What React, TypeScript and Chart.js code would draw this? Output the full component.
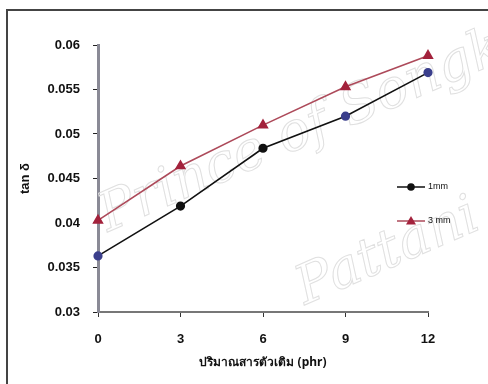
import React, { useEffect, useRef } from "react";
import { Chart, registerables } from "chart.js";

Chart.register(...registerables);

const xValues = [0, 3, 6, 9, 12];
const series1mm = [0.0363, 0.0419, 0.0484, 0.052, 0.0569];
const series3mm = [0.0403, 0.0464, 0.051, 0.0553, 0.0588];
const yTicks = [0.03, 0.035, 0.04, 0.045, 0.05, 0.055, 0.06];
const xTicks = [0, 3, 6, 9, 12];
const seriesLabels = ["1mm", "3 mm"];
const xTitle = "ปริมาณสารตัวเติม (phr)";
const yTitle = "tan δ";
const watermark = ["Prince of Songkla", "Pattani"];

const framePlugin = {
  id: "frame",
  beforeDraw(chart: any) {
    const { ctx, width, height } = chart;
    ctx.save();
    ctx.fillStyle = "#ffffff";
    ctx.fillRect(0, 0, width, height);
    ctx.strokeStyle = "#444";
    ctx.lineWidth = 2;
    ctx.beginPath();
    ctx.moveTo(7, height);
    ctx.lineTo(7, 10);
    ctx.lineTo(width, 10);
    ctx.stroke();
    ctx.restore();
  },
  beforeDatasetsDraw(chart: any) {
    const { ctx } = chart;
    const marks: [string, number, number][] = [
      [watermark[0], 108, 232],
      [watermark[1], 305, 305],
    ];
    marks.forEach(([text, x, y]) => {
      ctx.save();
      ctx.strokeStyle = "#e0e0e0";
      ctx.lineWidth = 1;
      ctx.font = "italic 54px 'DejaVu Serif'";
      ctx.translate(x, y);
      ctx.rotate(-0.41);
      ctx.strokeText(text, 0, 0);
      ctx.restore();
    });
  },
};

const legendPlugin = {
  id: "innerLegend",
  afterDraw(chart: any) {
    const { ctx, chartArea } = chart;
    const x0 = chartArea.right - 31;
    const ys = [chartArea.top + 142, chartArea.top + 176];
    chart.data.datasets.forEach((ds: any, i: number) => {
      const y = ys[i];
      ctx.save();
      ctx.strokeStyle = ds.borderColor;
      ctx.lineWidth = 1.5;
      ctx.beginPath();
      ctx.moveTo(x0, y);
      ctx.lineTo(x0 + 28, y);
      ctx.stroke();
      const cx = x0 + 14;
      ctx.fillStyle = ds.legendMarkerColor;
      ctx.beginPath();
      if (ds.pointStyle === "triangle") {
        ctx.moveTo(cx, y - 5);
        ctx.lineTo(cx + 5, y + 3.5);
        ctx.lineTo(cx - 5, y + 3.5);
        ctx.closePath();
      } else {
        ctx.arc(cx, y, 3.8, 0, Math.PI * 2);
      }
      ctx.fill();
      ctx.fillStyle = "#111";
      ctx.font = "9px 'Liberation Sans'";
      ctx.textBaseline = "middle";
      ctx.textAlign = "left";
      ctx.fillText(ds.label, x0 + 31, y);
      ctx.restore();
    });
  },
};

export default function App() {
  const ref = useRef<HTMLCanvasElement | null>(null);

  useEffect(() => {
    if (!ref.current) return;
    const chart = new Chart(ref.current, {
      type: "line",
      data: {
        datasets: [
          {
            label: seriesLabels[0],
            data: xValues.map((x, i) => ({ x, y: series1mm[i] })),
            borderColor: "#111111",
            borderWidth: 1.6,
            clip: false,
            pointStyle: "circle",
            pointRadius: 3.8,
            pointBackgroundColor: ["#3b3f8c", "#111111", "#111111", "#3b3f8c", "#3b3f8c"],
            pointBorderColor: ["#3b3f8c", "#111111", "#111111", "#3b3f8c", "#3b3f8c"],
            legendMarkerColor: "#111111",
          } as any,
          {
            label: seriesLabels[1],
            data: xValues.map((x, i) => ({ x, y: series3mm[i] })),
            borderColor: "#ad4a5a",
            borderWidth: 1.6,
            clip: false,
            pointStyle: "triangle",
            pointRadius: 5,
            pointBackgroundColor: "#a3223c",
            pointBorderColor: "#a3223c",
            legendMarkerColor: "#a3223c",
          } as any,
        ],
      },
      options: {
        animation: false,
        responsive: false,
        maintainAspectRatio: false,
        layout: { padding: { top: 45, right: 60, left: 0, bottom: 0 } },
        plugins: {
          legend: { display: false },
          tooltip: { enabled: false },
        },
        scales: {
          x: {
            type: "linear",
            min: 0,
            max: 12,
            afterBuildTicks(scale: any) {
              scale.ticks = xTicks.map((v) => ({ value: v }));
            },
            afterFit(scale: any) {
              scale.height = 72;
            },
            border: { color: "#777", width: 2 },
            grid: {
              drawOnChartArea: false,
              tickLength: 5,
              color: "#333",
            },
            ticks: {
              padding: 15,
              color: "#111",
              font: { family: "'Liberation Sans'", size: 13, weight: "bold" },
              callback: (v: any) => String(v),
            },
            title: {
              display: true,
              text: xTitle,
              color: "#111",
              font: { family: "'Noto Sans'", size: 12, weight: "bold" },
              padding: { top: 0, bottom: 14 },
            },
          },
          y: {
            type: "linear",
            min: 0.03,
            max: 0.06,
            afterBuildTicks(scale: any) {
              scale.ticks = yTicks.map((v) => ({ value: v }));
            },
            afterFit(scale: any) {
              scale.width = 98;
            },
            border: { color: "#8a8a96", width: 3 },
            grid: {
              drawOnChartArea: false,
              tickLength: 5,
              color: "#222",
            },
            ticks: {
              padding: 13,
              color: "#111",
              font: { family: "'Liberation Sans'", size: 13, weight: "bold" },
              callback: (v: any) => String(Number(Number(v).toFixed(3))),
            },
            title: {
              display: true,
              text: yTitle,
              color: "#111",
              font: { family: "'Liberation Sans'", size: 13, weight: "bold" },
              padding: { top: 18, bottom: 0 },
            },
          },
        },
      } as any,
      plugins: [framePlugin, legendPlugin],
    });
    return () => chart.destroy();
  }, []);

  return (
    <div style={{ position: "fixed", left: 0, top: 0, width: 488, height: 384 }}>
      <canvas ref={ref} width={488} height={384} style={{ width: 488, height: 384, display: "block" }} />
    </div>
  );
}
